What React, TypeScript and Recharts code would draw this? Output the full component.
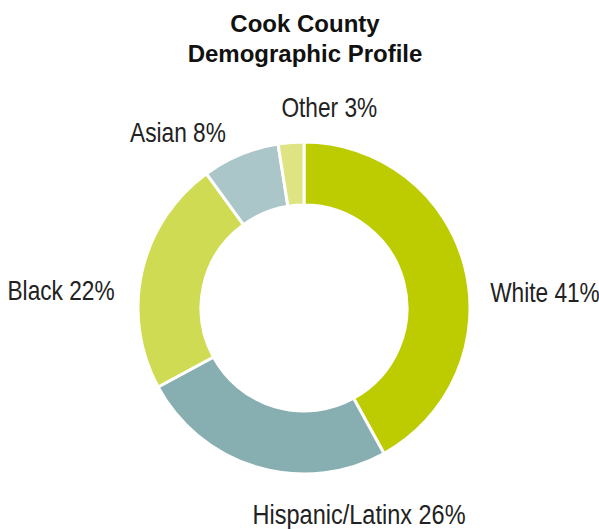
import { Cell, Pie, PieChart } from 'recharts';

// Cook County demographic profile
const groups = ['White', 'Hispanic/Latinx', 'Black', 'Asian', 'Other'];
const shares = [42, 25.1, 22.9, 7.5, 2.5];
// percentages as printed on the labels
const labelPct = ['41%', '26%', '22%', '8%', '3%'];
const colors = ['#bccc00', '#87aeb0', '#cfdb52', '#aac6c8', '#dde481'];

const pieData = groups.map((name, i) => ({ name, value: shares[i], pct: labelPct[i] }));

const RADIAN = Math.PI / 180;

// label placement tweaks so text sits like the original layout
const labelNudge: Record<string, { anchor: 'start' | 'end'; dx: number; dy: number }> = {
  White: { anchor: 'start', dx: 6, dy: 40 },
  'Hispanic/Latinx': { anchor: 'start', dx: 1, dy: 38 },
  Black: { anchor: 'end', dx: -8, dy: 33 },
  Asian: { anchor: 'end', dx: -7, dy: 6 },
  Other: { anchor: 'start', dx: -8, dy: -6 },
};

const renderLabel = (props: any) => {
  const { cx, cy, midAngle, outerRadius, name, payload } = props;
  const r = outerRadius + 20;
  const x = cx + r * Math.cos(-midAngle * RADIAN);
  const y = cy + r * Math.sin(-midAngle * RADIAN);
  const n = labelNudge[name] || { anchor: 'start', dx: 0, dy: 0 };
  const sx = name === 'Hispanic/Latinx' ? 0.84 : 0.81;
  // condensed look: squeeze the text horizontally
  return (
    <text
      transform={`translate(${x + n.dx},${y + n.dy}) scale(${sx},1)`}
      x={0}
      y={0}
      textAnchor={n.anchor}
      fill="#222"
      fontSize={28}
      fontFamily="'Liberation Sans', Arial, sans-serif"
    >
      {`${name} ${payload.pct}`}
    </text>
  );
};

export default function App() {
  return (
    <div style={{ position: 'absolute', left: 0, top: 0, width: 599, height: 529, background: '#fff' }}>
      <div
        style={{
          position: 'absolute',
          left: 0,
          top: 9,
          width: 610,
          textAlign: 'center',
          fontFamily: "'Liberation Sans', Arial, sans-serif",
          fontWeight: 'bold',
          fontSize: 24,
          lineHeight: '30px',
          color: '#111',
        }}
      >
        Cook County
        <br />
        Demographic Profile
      </div>
      <PieChart width={599} height={529}>
        <Pie
          data={pieData}
          dataKey="value"
          nameKey="name"
          cx={299}
          cy={303}
          innerRadius={103}
          outerRadius={166}
          startAngle={90}
          endAngle={-270}
          stroke="#fff"
          strokeWidth={3}
          label={renderLabel}
          labelLine={false}
          isAnimationActive={false}
        >
          {pieData.map((d, i) => (
            <Cell key={d.name} fill={colors[i]} />
          ))}
        </Pie>
      </PieChart>
    </div>
  );
}
